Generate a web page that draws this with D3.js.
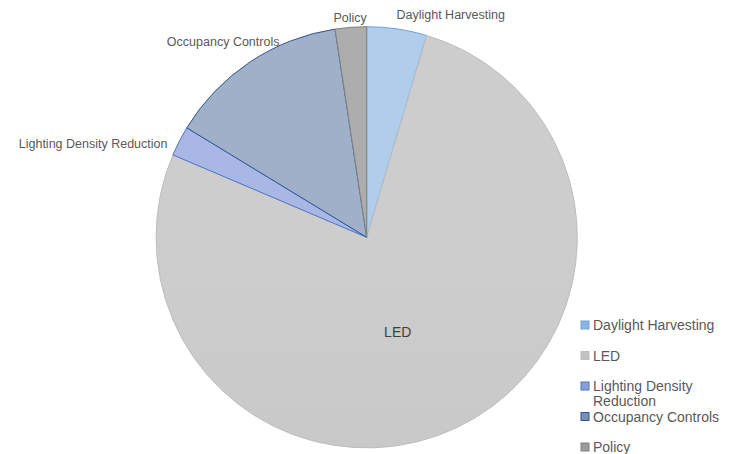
<!DOCTYPE html>
<html>
<head>
<meta charset="utf-8">
<script src="https://cdn.jsdelivr.net/npm/d3@7"></script>
<style>
  body { margin: 0; background: #fff; }
  text { font-family: "Liberation Sans", Arial, sans-serif; }
</style>
</head>
<body>
<div id="chart"></div>
<script>
// data
const categories = ["Daylight Harvesting", "LED", "Lighting Density Reduction", "Occupancy Controls", "Policy"];
const values = [4.6, 76.8, 2.3, 13.9, 2.4];

// styles (top colour, bottom colour, outline)
const topColors = ["#b1cdec", "#cdcdcd", "#a9b7e4", "#a1b0c9", "#adadad"];
const bottomColors = ["#8db3e3", "#c3c3c3", "#8a9ed9", "#7890b3", "#9b9b9b"];
const strokes = ["#6fa3dc", "#bdbdbd", "#4a76c8", "#2f5597", "#808080"];
// label placement tweaks
const labelAnchor = ["start", "middle", "end", "end", "middle"];
const labelShift = [[-2, 0], [-12, 3], [-3, 11], [35, -8], [0, 5]];

const width = 729, height = 454;
const cx = 366.7, cy = 237.3, r = 210.6;

const svg = d3.select("#chart").append("svg")
  .attr("width", width)
  .attr("height", height);

// gradients spanning the pie box
const defs = svg.append("defs");
categories.forEach((c, i) => {
  const grad = defs.append("linearGradient")
    .attr("id", "g" + i)
    .attr("gradientUnits", "userSpaceOnUse")
    .attr("x1", 0).attr("y1", cy - r)
    .attr("x2", 0).attr("y2", cy + r);
  grad.append("stop").attr("offset", "0%").attr("stop-color", topColors[i]);
  grad.append("stop").attr("offset", "100%").attr("stop-color", bottomColors[i]);
});

const pie = d3.pie().sort(null).value(d => d)(values);
const arc = d3.arc().innerRadius(0).outerRadius(r);

const g = svg.append("g").attr("transform", `translate(${cx},${cy})`);

g.selectAll("path")
  .data(pie)
  .join("path")
  .attr("d", arc)
  .attr("fill", (d, i) => `url(#g${i})`)
  .attr("stroke", (d, i) => strokes[i])
  .attr("stroke-width", 1);

// labels
const outer = d3.arc().innerRadius(r + 10).outerRadius(r + 10);
const inner = d3.arc().innerRadius(r * 0.48).outerRadius(r * 0.48);

g.selectAll("text.lbl")
  .data(pie)
  .join("text")
  .attr("class", "lbl")
  .attr("x", (d, i) => (i === 1 ? inner : outer).centroid(d)[0] + labelShift[i][0])
  .attr("y", (d, i) => (i === 1 ? inner : outer).centroid(d)[1] + labelShift[i][1])
  .attr("text-anchor", (d, i) => labelAnchor[i])
  .attr("dy", (d, i) => i === 1 ? "0.35em" : 0)
  .attr("fill", (d, i) => i === 1 ? "#404040" : "#595959")
  .style("font-size", (d, i) => i === 1 ? "14px" : "12.5px")
  .text((d, i) => categories[i]);

// legend
const legendY = d3.scalePoint().domain(categories).range([325, 447]);
const legend = svg.append("g");
const item = legend.selectAll("g")
  .data(categories)
  .join("g")
  .attr("transform", d => `translate(581,${legendY(d)})`);

item.append("rect")
  .attr("x", 0).attr("y", -4)
  .attr("width", 8).attr("height", 8)
  .attr("fill", (d, i) => bottomColors[i])
  .attr("stroke", (d, i) => strokes[i]);

item.append("text")
  .attr("fill", "#595959")
  .style("font-size", "14px")
  .each(function(d) {
    const t = d3.select(this);
    if (d === "Lighting Density Reduction") {
      t.append("tspan").attr("x", 12).attr("y", 5).text("Lighting Density");
      t.append("tspan").attr("x", 12).attr("y", 20).text("Reduction");
    } else {
      t.attr("x", 12).attr("y", 5).text(d);
    }
  });
</script>
</body>
</html>
